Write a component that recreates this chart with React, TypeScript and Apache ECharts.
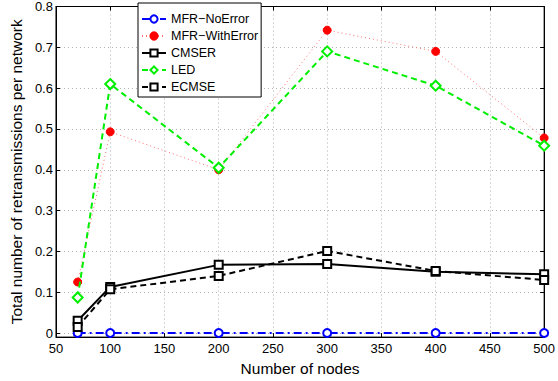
import React, { useEffect, useRef } from "react";
import * as echarts from "echarts";

const nodes = [70, 100, 200, 300, 400, 500];
const mfrNoError = [0, 0, 0, 0, 0, 0];
const mfrWithError = [0.125, 0.493, 0.4, 0.742, 0.69, 0.478];
const cmser = [0.03, 0.113, 0.167, 0.169, 0.15, 0.144];
const led = [0.087, 0.61, 0.405, 0.69, 0.606, 0.459];
const ecmse = [0.015, 0.107, 0.14, 0.201, 0.152, 0.13];

const font = "Liberation Sans, Arial, Helvetica, sans-serif";

function pairs(ys: number[]) {
  return nodes.map((x, i) => [x, ys[i]]);
}

export default function App() {
  const ref = useRef<HTMLDivElement>(null);
  useEffect(() => {
    if (!ref.current) return;
    const chart = echarts.init(ref.current, undefined, { renderer: "svg" });
    const gridLine = { show: true, lineStyle: { color: "#b0b0b0", type: [1, 3] as any, width: 1 } };
    const tick = { show: true, inside: true, length: 4, lineStyle: { color: "#000" } };
    const axLine = { show: true, onZero: false, lineStyle: { color: "#000", width: 1 } };
    chart.setOption({
      animation: false,
      backgroundColor: "#fff",
      textStyle: { fontFamily: font },
      grid: { left: 52, right: 13, top: 3, bottom: 40, show: true, borderColor: "#000", borderWidth: 1, backgroundColor: "transparent" },
      legend: {
        orient: "vertical",
        left: 138,
        top: 3,
        itemWidth: 24,
        itemHeight: 9,
        itemGap: 3,
        padding: [9, 3, 3, 3],
        backgroundColor: "#fff",
        borderColor: "#000",
        borderWidth: 1,
        borderRadius: 0,
        textStyle: { fontFamily: font, fontSize: 12.5, color: "#000", lineHeight: 14 },
        data: ["MFR\u2212NoError", "MFR\u2212WithError", "CMSER", "LED", "ECMSE"],
      },
      xAxis: [
        {
          type: "value",
          min: 50,
          max: 500,
          interval: 50,
          name: "Number of nodes",
          nameLocation: "middle",
          nameGap: 16,
          nameTextStyle: { fontFamily: font, fontSize: 15.5, color: "#000" },
          axisLine: axLine,
          axisTick: tick,
          axisLabel: { fontFamily: font, fontSize: 13, color: "#000", margin: 5 },
          splitLine: gridLine,
        },
        {
          type: "value",
          position: "top",
          min: 50,
          max: 500,
          interval: 50,
          axisLine: axLine,
          axisTick: tick,
          axisLabel: { show: false },
          splitLine: { show: false },
        },
      ],
      yAxis: [
        {
          type: "value",
          min: -0.01,
          max: 0.8,
          splitNumber: 8,
          minInterval: 0.1,
          maxInterval: 0.1,
          name: "Total number of retransmissions per network",
          nameLocation: "middle",
          nameGap: 24,
          nameTextStyle: { fontFamily: font, fontSize: 15.5, color: "#000" },
          axisLine: axLine,
          axisTick: tick,
          axisLabel: {
            fontFamily: font,
            fontSize: 13,
            color: "#000",
            margin: 3,
            showMinLabel: true,
            formatter: (v: number) => (v < -0.001 ? "" : Math.abs(v) < 0.001 ? "0" : v.toFixed(1)),
          },
          splitLine: gridLine,
        },
        {
          type: "value",
          position: "right",
          min: -0.01,
          max: 0.8,
          splitNumber: 8,
          minInterval: 0.1,
          maxInterval: 0.1,
          axisLine: axLine,
          axisTick: tick,
          axisLabel: { show: false },
          splitLine: { show: false },
        },
      ],
      series: [
        {
          name: "MFR\u2212NoError",
          type: "line",
          data: pairs(mfrNoError),
          symbol: "circle",
          symbolSize: 8,
          lineStyle: { color: "#0000ff", width: 2, type: [8, 4, 2, 4] },
          itemStyle: { color: "#fff", borderColor: "#0000ff", borderWidth: 2 },
          z: 3,
        },
        {
          name: "MFR\u2212WithError",
          type: "line",
          data: pairs(mfrWithError),
          symbol: "circle",
          symbolSize: 8,
          lineStyle: { color: "#ff7070", width: 1, type: [1, 3] },
          itemStyle: { color: "#ff0000", borderColor: "#ff0000", borderWidth: 1 },
          z: 4,
        },
        {
          name: "CMSER",
          type: "line",
          data: pairs(cmser),
          symbol: "rect",
          symbolSize: 8,
          lineStyle: { color: "#000", width: 2, type: "solid" },
          itemStyle: { color: "#fff", borderColor: "#000", borderWidth: 2 },
          z: 5,
        },
        {
          name: "LED",
          type: "line",
          data: pairs(led),
          symbol: "diamond",
          symbolSize: 10,
          lineStyle: { color: "#00ee00", width: 2, type: [6, 4] },
          itemStyle: { color: "#fff", borderColor: "#00ee00", borderWidth: 2 },
          z: 6,
        },
        {
          name: "ECMSE",
          type: "line",
          data: pairs(ecmse),
          symbol: "rect",
          symbolSize: 8,
          lineStyle: { color: "#000", width: 2, type: [6, 4] },
          itemStyle: { color: "#fff", borderColor: "#000", borderWidth: 2 },
          z: 7,
        },
      ],
    });
    return () => chart.dispose();
  }, []);
  return <div ref={ref} style={{ width: 558, height: 381, position: "absolute", left: 0, top: 0 }} />;
}
